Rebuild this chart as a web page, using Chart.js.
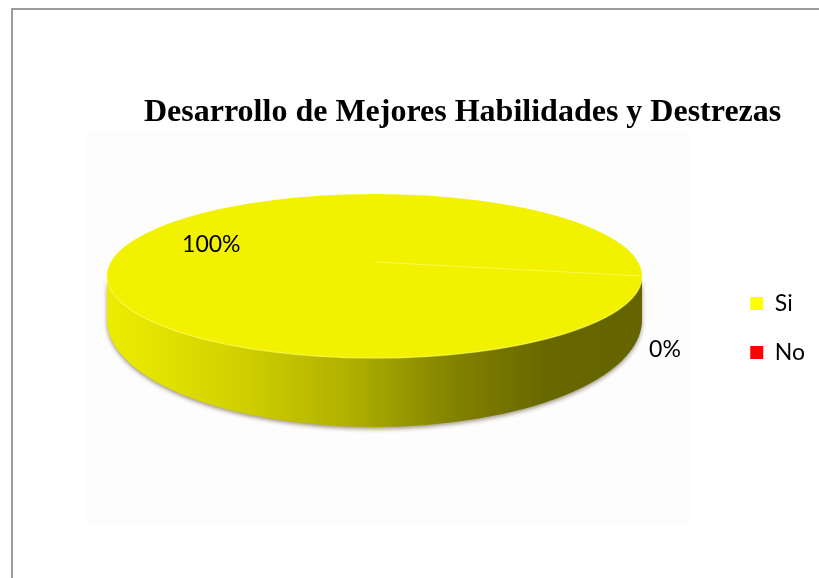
<!DOCTYPE html>
<html>
<head>
<meta charset="utf-8">
<title>Desarrollo de Mejores Habilidades y Destrezas</title>
<script src="https://cdn.jsdelivr.net/npm/chart.js@4/dist/chart.umd.min.js"></script>
<style>
    html, body { margin: 0; padding: 0; background: #fff; overflow: hidden; }
    #wrap { position: relative; width: 819px; height: 578px; }
    #frame { position: absolute; left: 11px; top: 8px; right: 0; bottom: 0; border-top: 2px solid #9c9c9c; border-left: 2px solid #9c9c9c; }
    canvas { position: absolute; left: 0; top: 0; }
</style>
</head>
<body>
<div id="wrap">
    <div id="frame"></div>
    <canvas id="pie" width="819" height="578" role="img" aria-label="Desarrollo de Mejores Habilidades y Destrezas"></canvas>
</div>
<script>
const chartTitle = "Desarrollo de Mejores Habilidades y Destrezas";
const categories = ["Si", "No"];
const values = [100, 0];
const sliceColors = ["#f2f200", "#ff0000"];
const legendColors = ["#ffff00", "#ff0000"];

/* ================= PIE GEOMETRY ================= */

const disc = { x: 374.5, y: 276, rx: 267.5, ry: 82 };
const base = { y: 320, ry: 107 };
const seamStartY = 262;

// where each percentage sits, relative to the middle of its slice on the rim
const labelReach = [0.61, 1];
const labelNudge = [[0, -31], [23, 74]];

const pie3d = {
    id: "pie3d",

    beforeDraw(chart) {
        const { ctx, chartArea } = chart;
        ctx.save();
        ctx.fillStyle = "#fdfdfd";
        ctx.fillRect(85, chartArea.top, 605, chartArea.bottom - chartArea.top);
        ctx.restore();
    },

    // side wall first, then the slices squashed into the top face
    beforeDatasetsDraw(chart) {
        const { ctx } = chart;
        const arc = chart.getDatasetMeta(0).data[0];

        const wall = ctx.createLinearGradient(disc.x - disc.rx, 0, disc.x + disc.rx, 0);
        wall.addColorStop(0, "#ecec00");
        wall.addColorStop(0.1, "#e2e200");
        wall.addColorStop(0.25, "#d0d000");
        wall.addColorStop(0.45, "#b0b000");
        wall.addColorStop(0.65, "#828200");
        wall.addColorStop(0.82, "#686800");
        wall.addColorStop(1, "#646400");

        ctx.save();
        ctx.beginPath();
        ctx.ellipse(disc.x, disc.y, disc.rx, disc.ry, 0, Math.PI, 0, true);
        ctx.lineTo(disc.x + disc.rx, base.y);
        ctx.ellipse(disc.x, base.y, disc.rx, base.ry, 0, 0, Math.PI);
        ctx.closePath();
        ctx.shadowColor = "rgba(110,90,60,0.65)";
        ctx.shadowBlur = 4;
        ctx.shadowOffsetY = 2;
        ctx.fillStyle = wall;
        ctx.fill();
        ctx.restore();

        ctx.save();
        ctx.translate(disc.x, disc.y);
        ctx.scale(1, disc.ry / disc.rx);
        ctx.translate(-arc.x, -arc.y);
    },

    afterDatasetsDraw(chart) {
        const { ctx } = chart;
        ctx.restore();

        // pale highlight along the front rim
        ctx.save();
        ctx.beginPath();
        ctx.ellipse(disc.x, disc.y, disc.rx, disc.ry, 0, 0, Math.PI);
        ctx.strokeStyle = "rgba(250,250,80,0.6)";
        ctx.lineWidth = 1.5;
        ctx.stroke();

        // seam where the first slice starts
        const meta = chart.getDatasetMeta(0);
        const first = meta.data[0];
        const rimX = disc.x + Math.cos(first.startAngle) * disc.rx;
        const rimY = disc.y + Math.sin(first.startAngle) * disc.ry;
        ctx.beginPath();
        ctx.moveTo(disc.x, seamStartY);
        ctx.lineTo(rimX, rimY);
        ctx.strokeStyle = "rgba(248,248,90,0.9)";
        ctx.lineWidth = 1.2;
        ctx.stroke();

        // percentages
        ctx.fillStyle = "#000";
        ctx.font = "23px Lato";
        ctx.textAlign = "center";
        ctx.textBaseline = "middle";
        values.forEach((v, i) => {
            const arc = meta.data[i];
            const mid = (arc.startAngle + arc.endAngle) / 2;
            const x = disc.x + Math.cos(mid) * disc.rx * labelReach[i] + labelNudge[i][0];
            const y = disc.y + Math.sin(mid) * disc.ry * labelReach[i] + labelNudge[i][1];
            ctx.fillText(v + "%", x, y);
        });
        ctx.restore();
    }
};

new Chart(document.getElementById("pie"), {
    type: "pie",
    data: {
        labels: categories,
        datasets: [{
            data: values,
            backgroundColor: sliceColors,
            borderWidth: 0,
            radius: disc.rx
        }]
    },
    options: {
        responsive: false,
        animation: false,
        rotation: 90,
        layout: { padding: { left: 144, right: 4, top: 94, bottom: 53 } },
        plugins: {
            tooltip: { enabled: false },
            title: {
                display: true,
                text: chartTitle,
                align: "start",
                color: "#000",
                font: { family: "'Liberation Serif'", size: 32, weight: "bold", lineHeight: 1.15 },
                padding: { top: 0, bottom: 0 }
            },
            legend: {
                position: "right",
                fullSize: false,
                labels: {
                    color: "#000",
                    font: { family: "Lato", size: 23 },
                    boxWidth: 13,
                    boxHeight: 13,
                    padding: 26,
                    generateLabels: () => categories.map((c, i) => ({
                        text: c,
                        fillStyle: legendColors[i],
                        strokeStyle: legendColors[i],
                        lineWidth: 0,
                        index: i
                    }))
                }
            }
        }
    },
    plugins: [pie3d]
});
</script>
</body>
</html>
